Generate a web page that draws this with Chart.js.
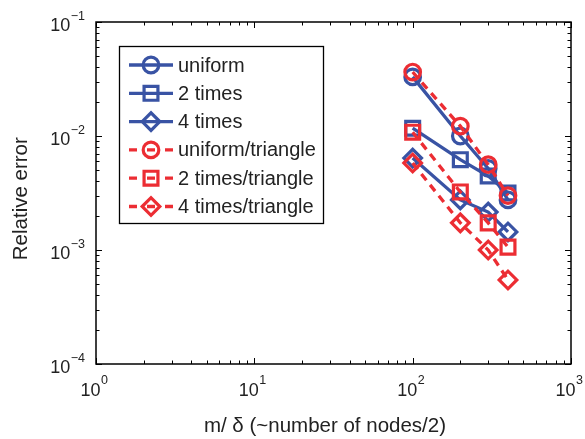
<!DOCTYPE html>
<html>
<head>
<meta charset="utf-8">
<script src="https://cdn.jsdelivr.net/npm/chart.js@4/dist/chart.umd.min.js"></script>
<style>
  html, body { margin: 0; padding: 0; background: #fff; }
  #wrap { width: 585px; height: 439px; }
</style>
</head>
<body>
<div id="wrap"><canvas id="c" width="585" height="439"></canvas></div>
<script>
// ---- data ----
const xValues = [100, 200, 300, 400];
const seriesNames = ['uniform', '2 times', '4 times', 'uniform/triangle', '2 times/triangle', '4 times/triangle'];
const uniform = [0.033, 0.0100, 0.0052, 0.00275];
const times2 = [0.0117, 0.0062, 0.00446, 0.00316];
const times4 = [0.0064, 0.00275, 0.00215, 0.00144];
const uniformTri = [0.0364, 0.0122, 0.0056, 0.0030];
const times2Tri = [0.0108, 0.00323, 0.00173, 0.00106];
const times4Tri = [0.0058, 0.00173, 0.0010, 0.000546];
const xTickExponents = [0, 1, 2, 3];
const yTickExponents = [-4, -3, -2, -1];
const xTitle = 'm/ \u03B4 (~number of nodes/2)';
const yTitle = 'Relative error';

const BLUE = '#3953a4';
const RED = '#ec2d33';
const FONT = "'Liberation Sans', Arial, Helvetica, sans-serif";
const TICK_FONT = 18, EXP_FONT = 12.5;

const seriesValues = [uniform, times2, times4, uniformTri, times2Tri, times4Tri];
const shapes = ['circle', 'rect', 'rectRot', 'circle', 'rect', 'rectRot'];
const radii = { circle: 7.8, rect: 9.8, rectRot: 8.8 };

const datasets = seriesValues.map((vals, i) => {
  const red = i >= 3;
  const col = red ? RED : BLUE;
  return {
    label: seriesNames[i],
    data: vals.map((v, j) => ({ x: xValues[j], y: v })),
    borderColor: col,
    backgroundColor: col,
    borderWidth: 3.3,
    borderDash: red ? [8, 6] : [],
    pointStyle: shapes[i],
    pointRadius: radii[shapes[i]],
    pointHoverRadius: radii[shapes[i]],
    pointBorderWidth: 3.2,
    pointBorderColor: col,
    pointBackgroundColor: 'rgba(0,0,0,0)',
    tension: 0,
    order: red ? 0 : 1
  };
});

function supText(ctx, base, exp) {
  ctx.font = TICK_FONT + 'px ' + FONT;
  const wb = ctx.measureText(base).width;
  ctx.font = EXP_FONT + 'px ' + FONT;
  const we = ctx.measureText(exp).width;
  return { wb, we };
}

const framePlugin = {
  id: 'frame',
  afterDraw(chart) {
    const ctx = chart.ctx;
    const a = chart.chartArea;
    const xs = chart.scales.x, ys = chart.scales.y;
    ctx.save();
    // ticks (inward, all four sides)
    ctx.strokeStyle = '#000';
    ctx.lineWidth = 1;
    for (let d = 0; d <= 3; d++) {
      for (let k = 1; k <= 9; k++) {
        const v = k * Math.pow(10, d);
        if (v > 1000) break;
        const px = Math.round(xs.getPixelForValue(v)) + 0.5;
        const L = k === 1 ? 6 : 3.5;
        ctx.beginPath();
        ctx.moveTo(px, a.bottom); ctx.lineTo(px, a.bottom - L);
        ctx.moveTo(px, a.top); ctx.lineTo(px, a.top + L);
        ctx.stroke();
      }
    }
    for (let d = -4; d <= -1; d++) {
      for (let k = 1; k <= 9; k++) {
        const v = k * Math.pow(10, d);
        if (v > 0.1 + 1e-12) break;
        const py = Math.round(ys.getPixelForValue(v)) + 0.5;
        const L = k === 1 ? 6 : 3.5;
        ctx.beginPath();
        ctx.moveTo(a.left, py); ctx.lineTo(a.left + L, py);
        ctx.moveTo(a.right, py); ctx.lineTo(a.right - L, py);
        ctx.stroke();
      }
    }
    // box
    ctx.lineWidth = 1.5;
    ctx.strokeRect(a.left, a.top, a.right - a.left, a.bottom - a.top);

    // tick labels
    ctx.fillStyle = '#222';
    ctx.textBaseline = 'alphabetic';
    ctx.textAlign = 'left';
    xTickExponents.forEach(e => {
      const px = xs.getPixelForValue(Math.pow(10, e));
      const exp = String(e).replace('-', '\u2212');
      const m = supText(ctx, '10', exp);
      const start = px - 2 - (m.wb + m.we) / 2;
      ctx.font = TICK_FONT + 'px ' + FONT;
      ctx.fillText('10', start, 396);
      ctx.font = EXP_FONT + 'px ' + FONT;
      ctx.fillText(exp, start + m.wb + 0.5, 384);
    });
    yTickExponents.forEach(e => {
      const py = ys.getPixelForValue(Math.pow(10, e));
      const exp = String(e).replace('-', '\u2212');
      const m = supText(ctx, '10', exp);
      const R = 85;
      ctx.font = TICK_FONT + 'px ' + FONT;
      ctx.fillText('10', R - m.we - m.wb - 0.5, py + 8.5);
      ctx.font = EXP_FONT + 'px ' + FONT;
      ctx.fillText(exp, R - m.we, py - 2);
    });

    // legend
    const bx = 119.5, by = 46.5, bw = 204, bh = 177;
    ctx.fillStyle = '#fff';
    ctx.fillRect(bx, by, bw, bh);
    ctx.strokeStyle = '#000';
    ctx.lineWidth = 1.3;
    ctx.strokeRect(bx, by, bw, bh);
    chart.data.datasets.forEach((ds, i) => {
      const y = 65 + i * 28.3;
      ctx.strokeStyle = ds.borderColor;
      ctx.lineWidth = ds.borderWidth;
      ctx.setLineDash([]);
      ctx.beginPath();
      if (ds.borderDash.length) {
        ctx.moveTo(129, y); ctx.lineTo(137, y);
        ctx.moveTo(165, y); ctx.lineTo(173, y);
        ctx.moveTo(147, y); ctx.lineTo(155, y);
      } else {
        ctx.moveTo(129, y); ctx.lineTo(173, y);
      }
      ctx.stroke();
      const cx = 151;
      ctx.lineWidth = ds.pointBorderWidth;
      ctx.beginPath();
      const r = ds.pointRadius;
      if (ds.pointStyle === 'circle') {
        ctx.arc(cx, y, r, 0, Math.PI * 2);
      } else if (ds.pointStyle === 'rect') {
        const s = r * Math.SQRT1_2;
        ctx.rect(cx - s, y - s, 2 * s, 2 * s);
      } else {
        ctx.moveTo(cx - r, y); ctx.lineTo(cx, y - r); ctx.lineTo(cx + r, y); ctx.lineTo(cx, y + r); ctx.closePath();
      }
      ctx.stroke();
      ctx.fillStyle = '#222';
      ctx.font = '20px ' + FONT;
      ctx.textBaseline = 'middle';
      ctx.fillText(ds.label, 178, y + 1);
    });
    ctx.restore();
  }
};

new Chart(document.getElementById('c'), {
  type: 'line',
  data: { datasets },
  options: {
    responsive: false,
    animation: false,
    devicePixelRatio: 1,
    layout: { padding: { left: 0, top: 22, right: 14, bottom: 0 } },
    plugins: { legend: { display: false }, tooltip: { enabled: false } },
    scales: {
      x: {
        type: 'logarithmic',
        min: 1, max: 1000,
        grid: { display: false },
        border: { display: false },
        ticks: { display: false },
        title: { display: true, text: xTitle + '   ', color: '#222', font: { family: FONT, size: 20.5 }, padding: { top: 0, bottom: 0 } },
        afterFit(s) { s.height = 75; }
      },
      y: {
        type: 'logarithmic',
        min: 0.0001, max: 0.1,
        grid: { display: false },
        border: { display: false },
        ticks: { display: false },
        title: { display: true, text: yTitle + '  ', color: '#222', font: { family: FONT, size: 20.5 }, padding: { top: 9, bottom: 0 } },
        afterFit(s) { s.width = 96; }
      }
    }
  },
  plugins: [framePlugin]
});
</script>
</body>
</html>
